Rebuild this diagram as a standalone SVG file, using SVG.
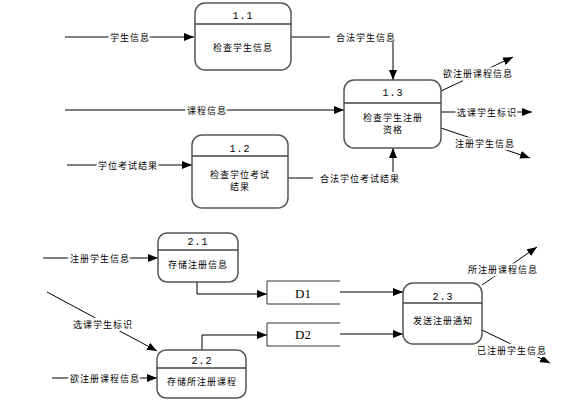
<svg xmlns="http://www.w3.org/2000/svg" width="565" height="405" viewBox="0 0 565 405">
<defs>
<marker id="ah" viewBox="0 0 10 8" refX="10" refY="4" markerWidth="10" markerHeight="8" markerUnits="userSpaceOnUse" orient="auto">
<path d="M0,0 L10,4 L0,8 Z" fill="#000"/>
</marker>
<style>
.box{fill:#fff;stroke:#555;stroke-width:1.5}
.div{stroke:#444;stroke-width:1.5}
.ln{fill:none;stroke:#000;stroke-width:1}
.ar{fill:none;stroke:#000;stroke-width:1;marker-end:url(#ah)}
.st{fill:none;stroke:#333;stroke-width:1}
text{font-family:"Noto Sans CJK SC","DejaVu Sans",sans-serif;font-size:9px;letter-spacing:1px;fill:#000;text-anchor:middle;dominant-baseline:central}
.num{font-family:"Liberation Mono",monospace;font-size:10px;letter-spacing:1px}
.ds{font-family:"Liberation Serif",serif;font-size:13px;letter-spacing:0}
.lb{paint-order:stroke;stroke:#fff;stroke-width:4px}
</style>
</defs>
<rect width="565" height="405" fill="#fff"/>
<g id="connectors">
<line class="ar" x1="65" y1="37" x2="194" y2="37"/>
<text class="lb" x="130" y="37">学生信息</text>
<polyline class="ln" points="291,37 330,37"/>
<text x="366" y="37">合法学生信息</text>
<line class="ar" x1="393" y1="42" x2="393" y2="80"/>
<line class="ar" x1="65" y1="110" x2="344" y2="110"/>
<text class="lb" x="207" y="110">课程信息</text>
<line class="ar" x1="67" y1="165" x2="192" y2="165"/>
<text class="lb" x="128" y="165">学位考试结果</text>
<line class="ln" x1="288" y1="178" x2="313" y2="178"/>
<text x="360" y="178">合法学位考试结果</text>
<line class="ar" x1="393" y1="172" x2="393" y2="148"/>
<line class="ar" x1="441" y1="91" x2="513" y2="57"/>
<text class="lb" x="478" y="73">欲注册课程信息</text>
<line class="ar" x1="441" y1="112" x2="532" y2="112"/>
<text class="lb" x="487" y="112">选课学生标识</text>
<line class="ar" x1="441" y1="128" x2="530" y2="158"/>
<text class="lb" x="485" y="143">注册学生信息</text>
<line class="ar" x1="43" y1="258" x2="158" y2="258"/>
<text class="lb" x="100" y="258">注册学生信息</text>
<polyline class="ar" points="197,282 197,294 267,294"/>
<polyline class="ar" points="202,350 202,335 267,335"/>
<line class="ar" x1="47" y1="292" x2="157" y2="351"/>
<text class="lb" x="103" y="324">选课学生标识</text>
<line class="ar" x1="52" y1="378" x2="157" y2="378"/>
<text class="lb" x="105" y="378">欲注册课程信息</text>
<line class="ar" x1="340" y1="292" x2="403" y2="292"/>
<line class="ar" x1="340" y1="334" x2="403" y2="334"/>
<line class="ar" x1="482" y1="285" x2="537" y2="247"/>
<text class="lb" x="503" y="269">所注册课程信息</text>
<line class="ar" x1="482" y1="330" x2="550" y2="363"/>
<text class="lb" x="512" y="350">已注册学生信息</text>
</g>
<g id="p1_1">
<rect class="box" x="195" y="3" width="96" height="67" rx="10"/>
<line class="div" x1="195" y1="24" x2="291" y2="24"/>
<text class="num" x="243" y="16">1.1</text>
<text x="243" y="47">检查学生信息</text>
</g>
<g id="p1_2">
<rect class="box" x="192" y="135" width="96" height="73" rx="10"/>
<line class="div" x1="192" y1="156" x2="288" y2="156"/>
<text class="num" x="240" y="149">1.2</text>
<text x="240" y="174">检查学位考试</text>
<text x="240" y="186">结果</text>
</g>
<g id="p1_3">
<rect class="box" x="344" y="80" width="97" height="68" rx="10"/>
<line class="div" x1="344" y1="103" x2="441" y2="103"/>
<text class="num" x="393" y="93">1.3</text>
<text x="393" y="117">检查学生注册</text>
<text x="393" y="129">资格</text>
</g>
<g id="p2_1">
<rect class="box" x="158" y="233" width="80" height="49" rx="9"/>
<line class="div" x1="158" y1="250" x2="238" y2="250"/>
<text class="num" x="198" y="242">2.1</text>
<text x="198" y="264">存储注册信息</text>
</g>
<g id="p2_2">
<rect class="box" x="157" y="350" width="89" height="48" rx="9"/>
<line class="div" x1="157" y1="368" x2="246" y2="368"/>
<text class="num" x="202" y="361">2.2</text>
<text x="202" y="381">存储所注册课程</text>
</g>
<g id="p2_3">
<rect class="box" x="403" y="283" width="79" height="61" rx="10"/>
<line class="div" x1="403" y1="303" x2="482" y2="303"/>
<text class="num" x="443" y="297">2.3</text>
<text x="443" y="320">发送注册通知</text>
</g>
<g id="D1">
<polyline class="st" points="340,281 267,281 267,304 340,304"/>
<text class="ds" x="303" y="293">D1</text>
</g>
<g id="D2">
<polyline class="st" points="340,323 267,323 267,346 340,346"/>
<text class="ds" x="303" y="334">D2</text>
</g>
</svg>
